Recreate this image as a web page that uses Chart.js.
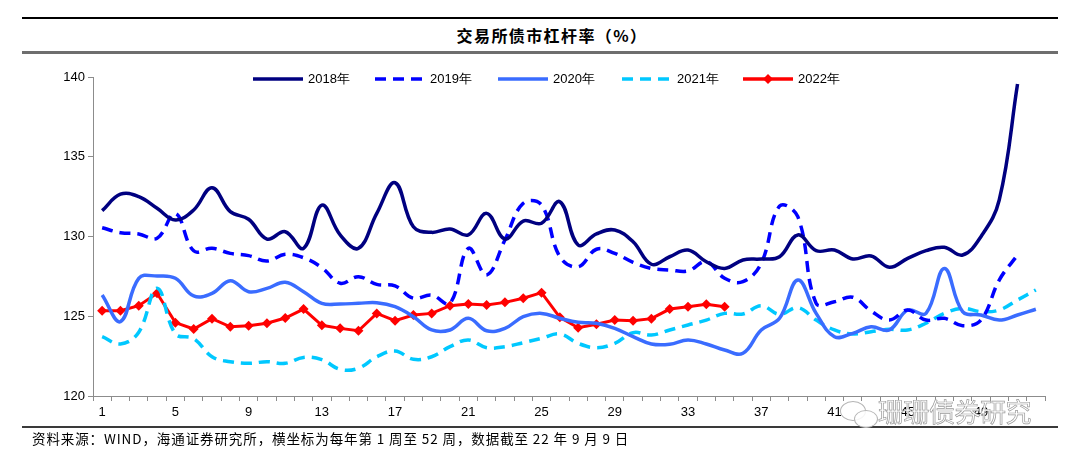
<!DOCTYPE html>
<html>
<head>
<meta charset="utf-8">
<script src="https://cdn.jsdelivr.net/npm/chart.js@4.4.1/dist/chart.umd.min.js"></script>
<style>
  html, body { margin: 0; padding: 0; background: #fff; }
  #wrap { position: relative; width: 1080px; height: 465px; overflow: hidden; font-family: "Liberation Sans", Arial, sans-serif; }
  #c { position: absolute; left: 0; top: 0; }
  .rule { position: absolute; left: 22px; width: 1036px; }
  #ruleTop { top: 17px; height: 2px; background: #000; }
  #ruleMid { top: 51px; height: 3px; background: #6e6e6e; }
  #ruleBot { top: 426px; height: 2px; background: #3a3a3a; }
  #title { position: absolute; left: 0; width: 1104px; top: 24px; text-align: center;
           font: bold 16px "Noto Sans CJK SC", sans-serif; color: #000; line-height: 22px; letter-spacing: 1.4px; }
  #source { position: absolute; left: 32px; top: 429px; font: 13.5px "Noto Sans CJK SC", sans-serif; color: #000;
            line-height: 18px; letter-spacing: 0.9px; }
  .lg { position: absolute; top: 71px; height: 16px; display: flex; align-items: center; font-size: 13px; color: #000; }
  .lg svg { margin-right: 5px; }
  #mark { position: absolute; left: 878px; top: 395px; font: 26px "Noto Sans CJK SC", sans-serif; color: #fff;
          -webkit-text-stroke: 0.7px #9a9a9a; letter-spacing: -0.5px; line-height: 32px; }
  .bub { position: absolute; border: 1.5px solid #b5b5b5; border-radius: 50%; background: rgba(255,255,255,0.85); }
</style>
</head>
<body>
<div id="wrap">
  <div class="rule" id="ruleTop"></div>
  <div id="title">交易所债市杠杆率（%）</div>
  <div class="rule" id="ruleMid"></div>
  <canvas id="c" width="1080" height="465"></canvas>
  <div class="rule" id="ruleBot"></div>
  <div id="source">资料来源：WIND，海通证券研究所，横坐标为每年第 1 周至 52 周，数据截至 22 年 9 月 9 日</div>
  <div class="bub" style="left:840px;top:401px;width:24px;height:18px;"></div>
  <div class="bub" style="left:854px;top:410px;width:22px;height:16px;"></div>
  <div id="mark">珊珊债券研究</div>
</div>
<script>
// weeks 1..52
const weeks = Array.from({ length: 52 }, (_, i) => String(i + 1));
const weekTickLabels = ['1', '5', '9', '13', '17', '21', '25', '29', '33', '37', '41', '45', '49'];
const yTicks = [120, 125, 130, 135, 140];

const seriesNames = ['2018年', '2019年', '2020年', '2021年', '2022年'];

const lev2018 = [131.62, 132.65, 132.5, 131.77, 131.03, 131.66, 133.06, 131.56, 131.08, 129.84,
  130.3, 129.26, 131.97, 130.1, 129.26, 131.45, 133.37, 130.61, 130.26, 130.47,
  130.1, 131.45, 129.84, 130.97, 130.83, 132.18, 129.47, 130.16, 130.41, 129.67,
  128.26, 128.73, 129.15, 128.42, 128.0, 128.53, 128.59, 128.73, 130.1, 129.11,
  129.15, 128.59, 128.78, 128.07, 128.63, 129.11, 129.32, 128.84, 129.99, 132.29, 139.56];

const lev2019 = [130.55, 130.24, 130.16, 129.89, 131.45, 129.1, 129.26, 128.94, 128.8, 128.46,
  128.88, 128.67, 128.05, 127.07, 127.48, 127.0, 126.9, 126.13, 126.33, 125.81,
  129.26, 127.59, 129.78, 132.08, 131.97, 128.73, 128.1, 129.2, 128.94, 128.38,
  128.0, 127.9, 127.84, 128.42, 127.38, 127.17, 128.32, 131.9, 131.24, 125.81,
  125.91, 126.19, 125.33, 124.76, 125.39, 124.76, 124.87, 124.41, 124.76, 127.27, 128.84];

const lev2020 = [126.33, 124.66, 127.38, 127.52, 127.38, 126.27, 126.44, 127.23, 126.54, 126.75,
  127.13, 126.54, 125.81, 125.77, 125.81, 125.85, 125.6, 124.97, 124.14, 124.14,
  124.87, 124.09, 124.24, 124.97, 125.18, 124.87, 124.62, 124.56, 124.24, 123.72,
  123.26, 123.24, 123.51, 123.26, 122.88, 122.68, 124.14, 124.87, 127.27, 125.18,
  123.72, 123.93, 124.34, 124.14, 125.39, 125.18, 128.0, 125.29, 125.08, 124.76, 125.08, 125.44];

const lev2021 = [123.72, 123.26, 124.0, 126.75, 123.9, 123.6, 122.46, 122.15, 122.05, 122.15,
  122.05, 122.42, 122.28, 121.67, 121.74, 122.46, 122.82, 122.3, 122.46, 123.09,
  123.51, 123.03, 123.09, 123.34, 123.62, 123.89, 123.3, 123.03, 123.3, 123.97,
  123.82, 124.14, 124.45, 124.76, 125.18, 125.14, 125.66, 125.12, 125.54, 124.76,
  124.14, 123.89, 124.03, 124.18, 124.14, 124.56, 125.18, 125.5, 125.29, 125.39, 126.02, 126.65];

const lev2022 = [125.35, 125.35, 125.66, 126.44, 124.6, 124.2, 124.85, 124.34, 124.41, 124.56,
  124.89, 125.45, 124.43, 124.24, 124.09, 125.18, 124.72, 125.08, 125.18, 125.66,
  125.77, 125.7, 125.87, 126.13, 126.48, 124.93, 124.28, 124.5, 124.77, 124.72,
  124.85, 125.45, 125.6, 125.75, 125.6];

const seriesColors = ['#000080', '#0000ff', '#3a6cff', '#00c8ff', '#ff0000'];
const seriesDash = [[], [11, 7], [], [11, 7], []];
const seriesData = [lev2018, lev2019, lev2020, lev2021, lev2022];

const axisGrey = '#8c8c8c';

const datasets = seriesData.map((data, i) => {
  const isLast = i === seriesData.length - 1;
  return {
    label: seriesNames[i],
    data: data,
    borderColor: seriesColors[i],
    backgroundColor: seriesColors[i],
    borderWidth: isLast ? 3 : 3.5,
    borderDash: seriesDash[i],
    tension: isLast ? 0 : 0.4,
    pointRadius: isLast ? 5 : 0,
    pointStyle: 'rectRot',
    pointBorderWidth: 0,
    fill: false
  };
});

// html legend, same order as the datasets
const legendLeft = [253, 375, 498, 622, 743];
const wrap = document.getElementById('wrap');
seriesNames.forEach((name, i) => {
  const item = document.createElement('div');
  item.className = 'lg';
  item.style.left = legendLeft[i] + 'px';
  const dash = seriesDash[i].length ? `stroke-dasharray="${seriesDash[i].join(' ')}"` : '';
  let marker = '';
  if (i === seriesNames.length - 1) {
    marker = `<polygon points="25,1 30,6 25,11 20,6" fill="${seriesColors[i]}"/>`;
  }
  item.innerHTML = `<svg width="50" height="12"><line x1="0" y1="6" x2="50" y2="6" stroke="${seriesColors[i]}" stroke-width="3.5" ${dash}/>${marker}</svg><span>${name}</span>`;
  wrap.appendChild(item);
});

const ctx = document.getElementById('c').getContext('2d');
new Chart(ctx, {
  type: 'line',
  data: {
    labels: weeks,
    datasets: datasets
  },
  options: {
    responsive: false,
    animation: false,
    layout: {
      padding: { left: 0, right: 35, top: 77, bottom: 30 }
    },
    scales: {
      x: {
        type: 'category',
        offset: true,
        afterFit: (scale) => { scale.height = 39; },
        grid: {
          offset: true,
          drawOnChartArea: false,
          drawTicks: true,
          tickLength: 5,
          color: axisGrey
        },
        border: { color: axisGrey, width: 1 },
        ticks: {
          autoSkip: false,
          maxRotation: 0,
          padding: 4,
          color: '#000',
          font: { family: '"Liberation Sans", Arial, sans-serif', size: 13 },
          callback: function (value, index) {
            const lab = weeks[index];
            return weekTickLabels.includes(lab) ? lab : '';
          }
        }
      },
      y: {
        min: yTicks[0],
        max: yTicks[yTicks.length - 1],
        afterFit: (scale) => { scale.width = 93; },
        grid: {
          drawOnChartArea: false,
          drawTicks: true,
          tickLength: 5,
          color: axisGrey
        },
        border: { color: axisGrey, width: 1 },
        ticks: {
          stepSize: 5,
          padding: 3,
          color: '#000',
          font: { family: '"Liberation Sans", Arial, sans-serif', size: 13 }
        }
      }
    },
    plugins: {
      legend: { display: false },
      tooltip: { enabled: false }
    }
  }
});
</script>
</body>
</html>
